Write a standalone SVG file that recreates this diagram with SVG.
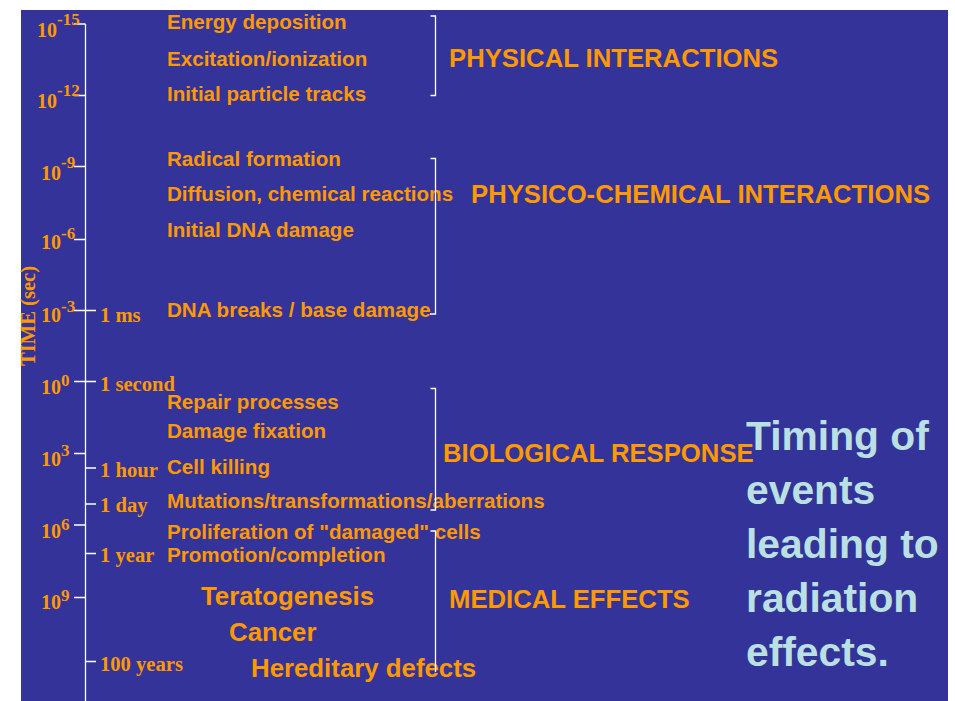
<svg xmlns="http://www.w3.org/2000/svg" width="955" height="701" viewBox="0 0 955 701">
<style>
.ev{font-family:"Liberation Sans",Arial,sans-serif;font-weight:bold;font-size:20.6px;fill:#FF9900}
.big{font-family:"Liberation Sans",Arial,sans-serif;font-weight:bold;font-size:25.8px;fill:#FF9900}
.cat{font-family:"Liberation Sans",Arial,sans-serif;font-weight:bold;font-size:25.7px;fill:#FF9900}
.tm{font-family:"Liberation Serif","Times New Roman",serif;font-weight:bold;font-size:20.6px;fill:#FF9900}
.ex{font-family:"Liberation Serif","Times New Roman",serif;font-weight:bold;font-size:20px;fill:#FF9900}
.sup{font-size:17px}
.ttl{font-family:"Liberation Sans",Arial,sans-serif;font-weight:bold;font-size:40.8px;fill:#BAE0E3}
.ln{stroke:#FFFFFF;stroke-width:1.3;fill:none}
</style>
<rect x="21" y="10" width="927" height="691" fill="#333399"/>

<g id="axis">
  <path class="ln" d="M85.5,24 V701"/>
  <path class="ln" d="M74,24 H85.5 M74,95.5 H85.5 M74,166.5 H85.5 M74,239.5 H85.5 M74,310.5 H85.5 M74,381.5 H85.5 M74,453.5 H85.5 M74,525 H85.5 M74,597.5 H85.5"/>
  <path class="ln" d="M85.5,310.5 H96 M85.5,381.5 H96 M85.5,468 H96 M85.5,504 H96 M85.5,553.5 H96 M85.5,661.5 H96"/>
  <text class="tm" transform="translate(35,316) rotate(-90)" text-anchor="middle" font-size="18">TIME (sec)</text>
</g>

<g id="exponents">
  <text class="ex"><tspan x="37" y="37">10</tspan><tspan class="sup" x="57" y="25">-15</tspan></text>
  <text class="ex"><tspan x="37" y="108">10</tspan><tspan class="sup" x="57" y="96">-12</tspan></text>
  <text class="ex"><tspan x="41" y="180">10</tspan><tspan class="sup" x="61" y="168">-9</tspan></text>
  <text class="ex"><tspan x="41" y="249">10</tspan><tspan class="sup" x="61" y="239">-6</tspan></text>
  <text class="ex"><tspan x="41" y="322">10</tspan><tspan class="sup" x="61" y="312">-3</tspan></text>
  <text class="ex"><tspan x="41" y="394">10</tspan><tspan class="sup" x="61" y="386">0</tspan></text>
  <text class="ex"><tspan x="41" y="466">10</tspan><tspan class="sup" x="61" y="456">3</tspan></text>
  <text class="ex"><tspan x="41" y="538">10</tspan><tspan class="sup" x="61" y="530">6</tspan></text>
  <text class="ex"><tspan x="41" y="609">10</tspan><tspan class="sup" x="61" y="601">9</tspan></text>
</g>

<g id="time-labels">
  <text class="tm" x="100" y="322">1 ms</text>
  <text class="tm" x="100" y="391">1 second</text>
  <text class="tm" x="100" y="477">1 hour</text>
  <text class="tm" x="100" y="512">1 day</text>
  <text class="tm" x="100" y="562">1 year</text>
  <text class="tm" x="100" y="671">100 years</text>
</g>

<g id="events">
  <text class="ev" x="167" y="29">Energy deposition</text>
  <text class="ev" x="167" y="66">Excitation/ionization</text>
  <text class="ev" x="167" y="101">Initial particle tracks</text>
  <text class="ev" x="167" y="166">Radical formation</text>
  <text class="ev" x="167" y="201">Diffusion, chemical reactions</text>
  <text class="ev" x="167" y="237">Initial DNA damage</text>
  <text class="ev" x="167" y="317">DNA breaks / base damage</text>
  <text class="ev" x="167" y="409">Repair processes</text>
  <text class="ev" x="167" y="438">Damage fixation</text>
  <text class="ev" x="167" y="474">Cell killing</text>
  <text class="ev" x="167" y="508">Mutations/transformations/aberrations</text>
  <text class="ev" x="167" y="539">Proliferation of "damaged" cells</text>
  <text class="ev" x="167" y="562">Promotion/completion</text>
  <text class="big" x="201" y="605">Teratogenesis</text>
  <text class="big" x="229" y="641">Cancer</text>
  <text class="big" x="251" y="677">Hereditary defects</text>
</g>

<g id="connectors">
  <path class="ln" d="M430.5,16 H435.5 V95.5 H430.5"/>
  <path class="ln" d="M430.5,158.5 H435.5 V314 H430"/>
  <path class="ln" d="M430.5,388.5 H435.5 V510 H430.5"/>
  <path class="ln" d="M430.5,531 H435.5 V672"/>
</g>

<g id="categories">
  <text class="cat" x="449" y="67">PHYSICAL INTERACTIONS</text>
  <text class="cat" x="471" y="203">PHYSICO-CHEMICAL INTERACTIONS</text>
  <text class="cat" x="443" y="462">BIOLOGICAL RESPONSE</text>
  <text class="cat" x="449" y="608">MEDICAL EFFECTS</text>
</g>

<g id="title">
  <text class="ttl" x="746" y="450">Timing of</text>
  <text class="ttl" x="746" y="504">events</text>
  <text class="ttl" x="746" y="558">leading to</text>
  <text class="ttl" x="746" y="612">radiation</text>
  <text class="ttl" x="746" y="666">effects.</text>
</g>
</svg>
